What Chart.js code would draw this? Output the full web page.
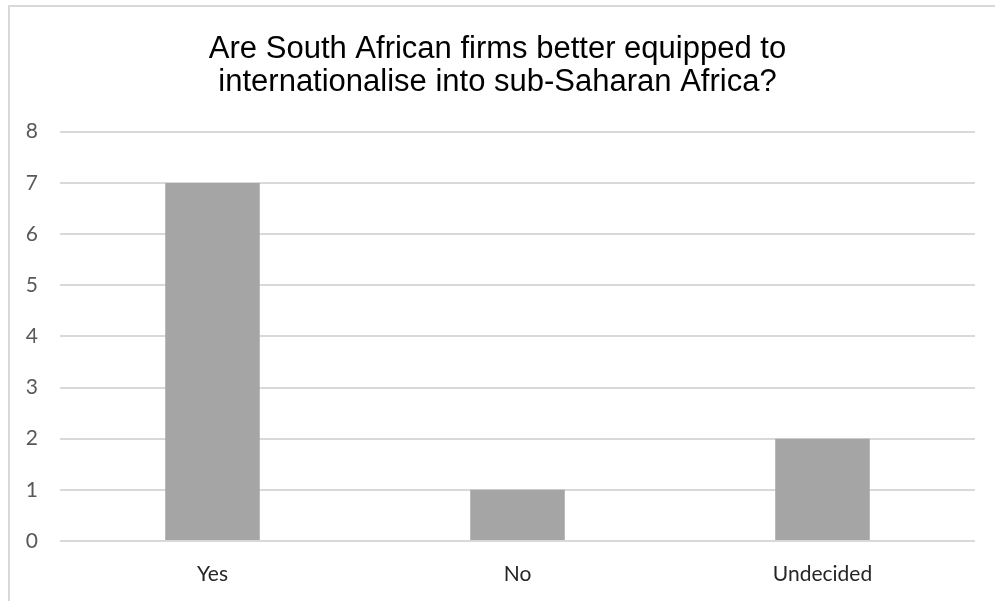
<!DOCTYPE html>
<html>
<head>
<meta charset="utf-8">
<script src="https://cdn.jsdelivr.net/npm/chart.js@4"></script>
<style>
	html, body { margin: 0; padding: 0; background: #fff; overflow: hidden; }
	#frame { position: absolute; left: 8px; top: 5px; width: 1100px; height: 700px; border: 2px solid #d9d9d9; }
	#wrap { position: absolute; left: 0; top: 0; width: 995px; height: 601px; }
</style>
</head>
<body>
<div id="frame"></div>
<div id="wrap"><canvas id="chart" width="995" height="601"></canvas></div>
<script>
(() => {
	const titleLines = ['Are South African firms better equipped to', 'internationalise into sub-Saharan Africa?'];
	const categories = ['Yes', 'No', 'Undecided'];
	const responses = [7, 1, 2];
	const yTicks = [0, 1, 2, 3, 4, 5, 6, 7, 8];

	const ctx = document.getElementById('chart').getContext('2d');
	new Chart(ctx, {
		type: 'bar',
		data: {
			labels: categories,
			datasets: [
				{
					label: 'Responses',
					backgroundColor: '#a5a5a5',
					barPercentage: 0.62,
					categoryPercentage: 0.5,
					data: responses
				}
			]
		},
		options: {
			responsive: false,
			animation: false,
			layout: {
				padding: { top: 33, right: 0, bottom: 0, left: 0 }
			},
			plugins: {
				legend: { display: false },
				tooltip: { enabled: false },
				title: {
					display: true,
					text: titleLines,
					color: '#000',
					font: { family: '"Liberation Sans", Arial, sans-serif', size: 31, weight: 'normal', lineHeight: 1.06 },
					padding: { top: 0, bottom: 33 }
				}
			},
			scales: {
				x: {
					grid: { display: false, drawTicks: false },
					border: { display: false },
					ticks: { color: '#262626', font: { family: 'Lato, "Open Sans", sans-serif', size: 21 }, padding: 21 },
					afterFit: (s) => { s.height = 60; }
				},
				y: {
					min: 0,
					max: 8,
					afterBuildTicks: (s) => { s.ticks = yTicks.map((v) => ({ value: v })); },
					grid: { color: '#d9d9d9', lineWidth: 2, drawTicks: false },
					border: { display: false },
					ticks: { color: '#595959', font: { family: 'Lato, "Open Sans", sans-serif', size: 21 }, padding: 22 },
					afterFit: (s) => { s.width = 60; }
				},
				// empty right-hand strip so the title stays centred on the whole frame
				yRight: {
					position: 'right',
					grid: { display: false, drawTicks: false },
					border: { display: false },
					ticks: { display: false },
					afterFit: (s) => { s.width = 20; }
				}
			}
		}
	});
})();
</script>
</body>
</html>
